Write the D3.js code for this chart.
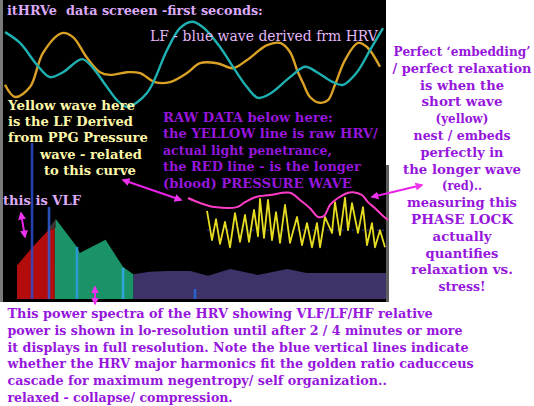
<!DOCTYPE html>
<html><head><meta charset="utf-8">
<script src="https://cdn.jsdelivr.net/npm/d3@7"></script>
<style>html,body{margin:0;padding:0;background:#fff;overflow:hidden}text{white-space:pre}</style>
</head><body>
<svg id="c" width="534" height="406"></svg>
<script>
// ---------- DATA ----------
// LF waves in the top strip (time in s, normalised amplitude)
const lfTime   = [0,1.5,3.2,4.5,5.8,7.7,8.7,10.2,11.2,12.2,14.2,16.2,17.5,18.7,19.8,21.5,22.8,24.2,25.3,26.5,28.5,30,31.2,32.8,33.8,35.2,36.5,37.8];
const lfBlue   = [0.73,0.49,0.0,-0.27,-0.16,0.13,-0.04,-0.49,-0.78,-0.93,-0.62,0.33,0.82,0.96,0.84,0.4,-0.04,-0.49,-0.73,-0.64,-0.27,-0.04,-0.16,-0.38,-0.44,-0.16,0.33,0.82];
const ppgTime  = [0,1.0,2.5,3.8,5.7,6.8,8.2,9.5,10.5,12.2,13.5,15.0,16.5,18.2,19.5,21.2,22.8,24.2,26.2,27.5,28.5,29.2,29.8,30.5,31.5,32.3,33.0,34.0,35.3,36.2,37.5];
const ppgYellow= [-0.44,-0.71,-0.49,0.27,0.71,0.62,0.16,-0.16,-0.22,-0.16,-0.18,-0.38,-0.38,-0.18,0.04,0.04,-0.07,0.11,0.44,0.49,0.29,-0.11,-0.40,-0.71,-0.84,-0.78,-0.44,0.11,0.49,0.40,-0.04];

// Raw HRV (yellow) and pressure wave (red/pink)
const rawTime  = [0,0.5,0.9,1.3,1.8,2.3,2.8,3.3,3.8,4.2,4.7,5.1,5.3,5.7,6.1,6.5,6.9,7.3,7.8,8.3,9.0,9.5,10.0,10.5,11.0,11.3,11.8,12.5,12.8,13.3,13.8,14.1,14.5,15.1,15.6,16.0,16.5,16.8,17.3,17.8];
const rawHRV   = [0.71,0.18,0.56,0.11,0.51,0.05,0.67,0.15,0.64,0.15,0.73,0.25,0.93,0.22,0.91,0.18,0.69,0.13,0.82,0.13,0.60,0.09,0.49,0.05,0.49,0.05,0.60,0.31,0.87,0.27,0.95,0.36,0.85,0.31,0.78,0.09,0.49,0.05,0.36,0.05];
const presTime = [-1.9,-0.7,0.8,3.0,3.8,4.8,6.3,8.3,9.3,10.3,11.1,11.7,12.3,13.1,14.1,14.6,15.5,16.1,16.8,17.6,18.1];
const presWave = [0.945,0.855,0.78,0.78,0.87,0.96,1.0,1.04,0.91,0.76,0.60,0.62,0.82,0.945,1.04,1.05,1.0,0.87,0.76,0.62,0.545];

// Power spectrum (frequency Hz, relative power)
const vlfFreq = [0,0.017,0.033,0.041];
const vlfPow  = [0.42,0.65,0.85,0.89];
const lfFreq  = [0.041,0.042,0.065,0.068,0.096,0.115,0.126];
const lfPow   = [0.975,1.0,0.65,0.575,0.74,0.40,0.31];
const hfFreq  = [0.126,0.144,0.163,0.188,0.207,0.231,0.261,0.293,0.314,0.4];
const hfPow   = [0.31,0.34,0.35,0.35,0.29,0.375,0.30,0.375,0.325,0.325];
const harmFreq= [0.0163,0.0347,0.065,0.115,0.193];
const harmPow = [1.95,1.15,0.65,0.39,0.125];

// Texts
const titleText = "itHRVe  data screeen -first seconds:";
const lfText = "LF - blue wave derived frm HRV";
const yellowLines = ["Yellow wave here","is the LF Derived","from PPG Pressure","wave - related","to this curve"];
const vlfText = "this is VLF";
const rawLines = ["RAW DATA below here:","the YELLOW line is raw HRV/","actual light penetrance,","the RED line - is the longer","(blood) PRESSURE WAVE"];
const rightLines = ["Perfect \u2018embedding\u2019","/ perfect relaxation","is when the","short wave","(yellow)","nest / embeds","perfectly in","the longer wave","(red)..","measuring this","PHASE LOCK","actually","quantifies","relaxation vs.","stress!"];
const bottomLines = ["This power spectra of the HRV showing VLF/LF/HF relative","power is shown in lo-resolution until after 2 / 4 minutes or more","it displays in full resolution. Note the blue vertical lines indicate","whether the HRV major harmonics fit the golden ratio caducceus","cascade for maximum negentropy/ self organization..","relaxed - collapse/ compression."];

// ---------- DRAW ----------
const svg = d3.select('#c');
const defs = svg.append('defs');
defs.append('clipPath').attr('id','panel').append('rect').attr('x',3).attr('y',0).attr('width',383).attr('height',302);
defs.append('marker').attr('id','ah').attr('viewBox','0 0 10 10').attr('refX',8).attr('refY',5)
  .attr('markerWidth',4).attr('markerHeight',4).attr('orient','auto-start-reverse')
  .append('path').attr('d','M0,0L10,5L0,10z').attr('fill','#ee33ee');

svg.append('rect').attr('x',3).attr('y',0).attr('width',383).attr('height',302).attr('fill','#000');
svg.append('rect').attr('x',0).attr('y',0).attr('width',3).attr('height',302).attr('fill','#7a7a7a');
svg.append('rect').attr('x',386).attr('y',165).attr('width',3).attr('height',137).attr('fill','#5e5e5e');

const g = svg.append('g').attr('clip-path','url(#panel)');

// top waves
const xT = d3.scaleLinear().domain([0,38]).range([5,385]);
const yW = d3.scaleLinear().domain([-1,1]).range([110,20]);
const wave = d3.line().x(d=>xT(d[0])).y(d=>yW(d[1])).curve(d3.curveCatmullRom);
g.append('path').attr('d',wave(ppgTime.map((t,i)=>[t,ppgYellow[i]]))).attr('fill','none').attr('stroke','#d9a126').attr('stroke-width',2.4);
g.append('path').attr('d',wave(lfTime.map((t,i)=>[t,lfBlue[i]]))).attr('fill','none').attr('stroke','#1fb0b2').attr('stroke-width',2.4);

// spectrum
const xF = d3.scaleLinear().domain([0,0.4]).range([17,386]);
const yP = d3.scaleLinear().domain([0,1]).range([299,219]);
const area = d3.area().x(d=>xF(d[0])).y0(yP(0)).y1(d=>yP(d[1]));
const band = (f,p,c)=>g.append('path').attr('d',area(f.map((v,i)=>[v,p[i]]))).attr('fill',c);
band(hfFreq,hfPow,'#3f3268');
band(vlfFreq,vlfPow,'#b20c0c');
band(lfFreq,lfPow,'#1a9466');
g.append('path').attr('d',d3.line()([[xF(0.0325),yP(0.86)],[xF(0.042),yP(1.0)],[xF(0.042),yP(0.89)]])+'Z').attr('fill','#3a3030');
const harmCol = ['#2a4ccc','#2e5fd8','#2d9ce8','#33a9f0','#226ce0'];
harmFreq.forEach((f,i)=>{
  g.append('line').attr('x1',xF(f)).attr('x2',xF(f)).attr('y1',yP(0)).attr('y2',yP(harmPow[i]))
   .attr('stroke',harmCol[i]).attr('stroke-width',2.6).attr('opacity',0.85);
});

// raw data
const xR = d3.scaleLinear().domain([0,17.8]).range([207,385]);
const yR = d3.scaleLinear().domain([0,1]).range([250,195]);
const rl = d3.line().x(d=>xR(d[0])).y(d=>yR(d[1]));
g.append('line').attr('x1',xR(0)).attr('x2',xR(17.8)).attr('y1',yR(0.36)).attr('y2',yR(0.36))
  .attr('stroke','#1c2c9a').attr('stroke-width',1.5).attr('stroke-dasharray','2,3').attr('opacity',0.8);
g.append('path').attr('d',rl(rawTime.map((t,i)=>[t,rawHRV[i]]))).attr('fill','none').attr('stroke','#e6dc22').attr('stroke-width',1.8).attr('stroke-linejoin','round');
const pl = d3.line().x(d=>xR(d[0])).y(d=>yR(d[1])).curve(d3.curveCatmullRom);
svg.append('path').attr('d',pl(presTime.map((t,i)=>[t,presWave[i]]))).attr('fill','none').attr('stroke','#ff3cc8').attr('stroke-width',2);

// arrows
const arrows = [[[123,180],[181,200]],[[372,197],[422,185]],[[21,213],[25,237]],[[95,287],[95,304]]];
arrows.forEach(a=>svg.append('line').attr('x1',a[0][0]).attr('y1',a[0][1]).attr('x2',a[1][0]).attr('y2',a[1][1])
  .attr('stroke','#e822e8').attr('stroke-width',2).attr('marker-start','url(#ah)').attr('marker-end','url(#ah)'));

// text: natural glyphs, horizontally scaled to the measured width of the reference
function txt(s,x,y,w,size,fill,weight,anchor){
  const t = svg.append('text').attr('x',0).attr('y',0).text(s)
    .attr('font-family','DejaVu Serif').attr('font-weight',weight||'bold').attr('font-size',size)
    .attr('fill',fill).attr('text-anchor',anchor||'start');
  const L = t.node().getComputedTextLength() || w;
  t.attr('transform',`translate(${x},${y}) scale(${w/L},1)`);
}
txt(titleText,7,15,256,12.5,'#dcaaf8');
txt(lfText,150,40.5,228,14,'#e2b6f8','normal');
const yW_ = [127,125,140,102,92], yX=[8,8,8,40,44];
yellowLines.forEach((s,i)=>txt(s,yX[i],109.5+i*16.4,yW_[i],12.5,'#fff8a8'));
txt(vlfText,3,205,78,13,'#dcaaf8');
const rawW=[170,215,169,198,189];
rawLines.forEach((s,i)=>txt(s,163,122+i*16.4,rawW[i],13,'#9616dc'));
const rW=[137,139,84,81,53,97,83,118,40,110,102,59,73,102,47];
rightLines.forEach((s,i)=>txt(s,462,56+i*16.8,rW[i],13,'#9616dc','bold','middle'));
const bW=[425.5,455.5,461.5,466.5,379.5,225.5];
bottomLines.forEach((s,i)=>txt(s,7.5,318+i*16.8,bW[i],13.5,'#9616dc'));
</script>
</body></html>
